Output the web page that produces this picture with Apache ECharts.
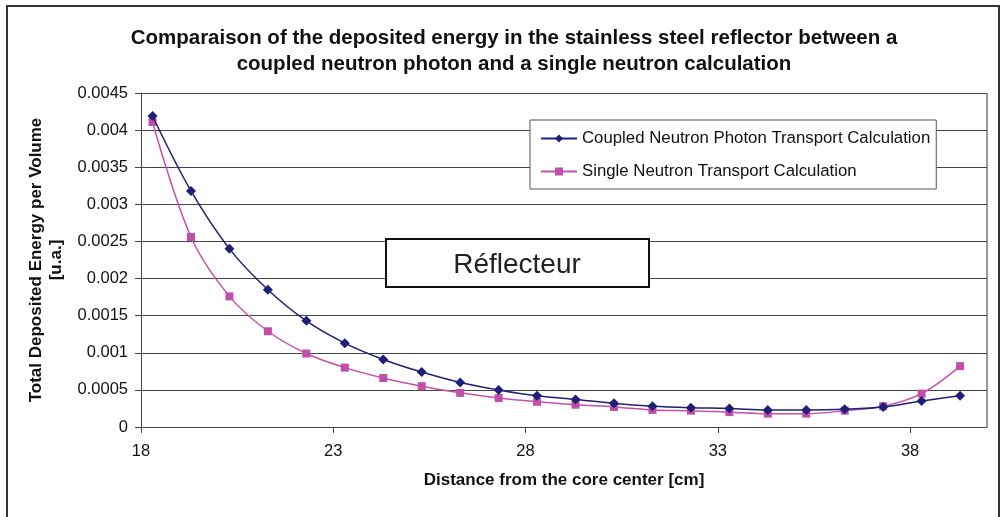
<!DOCTYPE html>
<html>
<head>
<meta charset="utf-8">
<script src="https://cdn.jsdelivr.net/npm/echarts@6/dist/echarts.min.js"></script>
<style>
  html, body { margin: 0; padding: 0; background: #fff; }
  #chart { width: 1002px; height: 517px; }
</style>
</head>
<body>
<div id="chart"></div>
<script>
var distance = [18.3, 19.3, 20.3, 21.3, 22.3, 23.3, 24.3, 25.3, 26.3, 27.3, 28.3,
    29.3, 30.3, 31.3, 32.3, 33.3, 34.3, 35.3, 36.3, 37.3, 38.3, 39.3];
var coupled = [0.00419, 0.00318, 0.00240, 0.00185, 0.00143, 0.00113, 0.00091, 0.00074,
    0.00060, 0.00050, 0.00042, 0.00037, 0.00032, 0.00028, 0.00026, 0.00025,
    0.00023, 0.00023, 0.00024, 0.00027, 0.00035, 0.00042];
var single = [0.00411, 0.00256, 0.00176, 0.00129, 0.00099, 0.00080, 0.00066, 0.00055,
    0.00046, 0.00039, 0.00034, 0.00030, 0.00027, 0.00023, 0.00022, 0.00020,
    0.00018, 0.00018, 0.00022, 0.00028, 0.00045, 0.00082];
var seriesNames = ['Coupled Neutron Photon Transport Calculation', 'Single Neutron Transport Calculation'];

function pairs(xs, ys) {
    return xs.map(function (x, i) { return [x, ys[i]]; });
}

var font = 'Liberation Sans, Arial, sans-serif';
var chart = echarts.init(document.getElementById('chart'));
var option = {
    backgroundColor: '#fff',
    animation: false,
    title: {
        text: 'Comparaison of the deposited energy in the stainless steel reflector between a\ncoupled neutron photon and a single neutron calculation',
        left: 509,
        textAlign: 'center',
        top: 20,
        textStyle: {
            fontFamily: font,
            fontSize: 20.5,
            fontWeight: 'bold',
            color: '#111',
            lineHeight: 26
        }
    },
    legend: {
        data: seriesNames,
        orient: 'vertical',
        left: 530,
        top: 120,
        padding: [10, 6, 9, 10],
        itemGap: 16,
        itemWidth: 36,
        itemHeight: 10,
        backgroundColor: '#fff',
        borderColor: '#555',
        borderWidth: 1,
        borderRadius: 0,
        textStyle: { fontFamily: font, fontSize: 16.8, color: '#111' }
    },
    grid: {
        left: 141,
        right: 15,
        top: 93,
        bottom: 90
    },
    xAxis: {
        type: 'value',
        min: 18,
        max: 40,
        interval: 5,
        name: 'Distance from the core center [cm]',
        nameLocation: 'middle',
        nameGap: 45,
        nameTextStyle: { fontFamily: font, fontSize: 17, fontWeight: 'bold', color: '#111' },
        axisLine: { show: true, onZero: false, lineStyle: { color: '#444', width: 1 } },
        axisTick: { show: true, length: 6, lineStyle: { color: '#444' } },
        axisLabel: {
            showMaxLabel: false,
            margin: 16,
            fontFamily: font,
            fontSize: 16.5,
            color: '#111'
        },
        splitLine: { show: false }
    },
    yAxis: {
        type: 'value',
        min: 0,
        max: 0.0045,
        interval: 0.0005,
        name: 'Total Deposited Energy per Volume\n[u.a.]',
        nameLocation: 'middle',
        nameGap: 72,
        nameRotate: 90,
        nameTextStyle: { fontFamily: font, fontSize: 17, fontWeight: 'bold', color: '#111', lineHeight: 20 },
        axisLine: { show: true, lineStyle: { color: '#444', width: 1 } },
        axisTick: { show: true, length: 6, lineStyle: { color: '#444' } },
        axisLabel: {
            margin: 13,
            fontFamily: font,
            fontSize: 16.5,
            color: '#111',
            formatter: function (v) { return String(+v.toFixed(4)); }
        },
        splitLine: { show: true, lineStyle: { color: '#444', width: 1 } }
    },
    graphic: [
        {
            type: 'rect',
            shape: { x: 7, y: 6, width: 992, height: 530 },
            style: { fill: 'none', stroke: '#333', lineWidth: 2 },
            silent: true
        },
        {
            type: 'line',
            shape: { x1: 987, y1: 93, x2: 987, y2: 427 },
            style: { stroke: '#999', lineWidth: 2 },
            silent: true
        },
        {
            type: 'rect',
            shape: { x: 386, y: 239, width: 263, height: 48 },
            style: { fill: '#fff', stroke: '#111', lineWidth: 2 },
            z: 10
        },
        {
            type: 'text',
            x: 517,
            y: 265,
            style: {
                text: 'Réflecteur',
                font: '28px Liberation Sans, Arial, sans-serif',
                fill: '#222',
                align: 'center',
                verticalAlign: 'middle'
            },
            z: 11
        }
    ],
    series: [
        {
            name: seriesNames[0],
            type: 'line',
            data: pairs(distance, coupled),
            smooth: 0.35,
            symbol: 'diamond',
            symbolSize: 10,
            lineStyle: { color: '#1f1f78', width: 1.5 },
            itemStyle: { color: '#1f1f78' },
            z: 3
        },
        {
            name: seriesNames[1],
            type: 'line',
            data: pairs(distance, single),
            smooth: 0.35,
            symbol: 'rect',
            symbolSize: 8,
            lineStyle: { color: '#c452ac', width: 1.5 },
            itemStyle: { color: '#c04fa8' },
            z: 2
        }
    ]
};
chart.setOption(option);
window.onresize = chart.resize;
</script>
</body>
</html>
